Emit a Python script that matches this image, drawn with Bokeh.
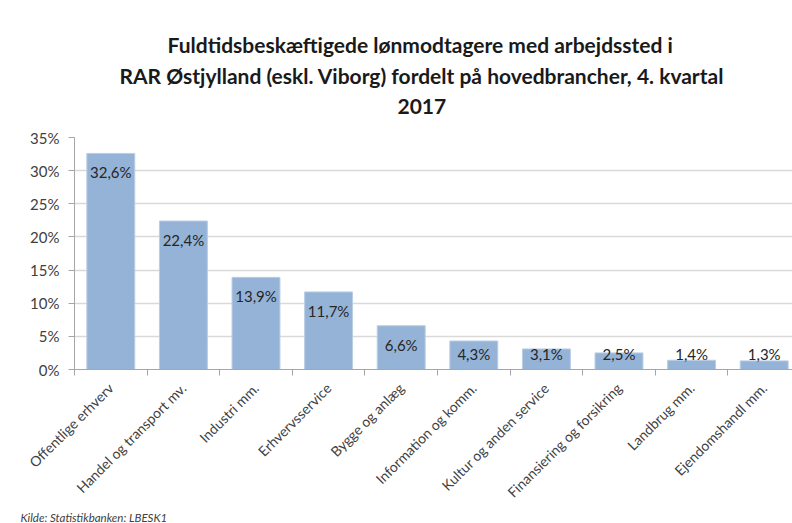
import math
from bokeh.plotting import figure
from bokeh.models import (ColumnDataSource, Range1d, FixedTicker, NumeralTickFormatter,
                          Title)
from bokeh.core.properties import value
from bokeh.embed import file_html
from bokeh.resources import INLINE

# ---- data ----
categories = ["Offentlige erhverv", "Handel og transport mv.", "Industri mm.",
              "Erhvervsservice", "Bygge og anlæg", "Information og komm.",
              "Kultur og anden service", "Finansiering og forsikring",
              "Landbrug mm.", "Ejendomshandl mm."]
shares_pct = [32.6, 22.4, 13.9, 11.7, 6.6, 4.3, 3.1, 2.5, 1.4, 1.3]
y_ticks_pct = [0, 5, 10, 15, 20, 25, 30, 35]
title_lines = ["Fuldtidsbeskæftigede lønmodtagere med arbejdssted i",
               "RAR Østjylland (eskl. Viborg) fordelt på hovedbrancher, 4. kvartal",
               "2017"]
source_text = "Kilde: Statistikbanken: LBESK1"

FONT = "Lato"
TXT = "#262626"
AX = "#404040"

xs = list(range(len(categories)))
vals = [v / 100 for v in shares_pct]
labels = [f"{v:.1f}".replace(".", ",") + "%" for v in shares_pct]
label_y = [max(v, 0.052) for v in vals]

src = ColumnDataSource(dict(x=xs, top=vals, lab=labels, ly=label_y))

W, H = 792, 523
p = figure(width=W, height=H, output_backend="svg", toolbar_location=None,
           x_range=Range1d(-0.5, -0.5 + 718 / 72.6), y_range=Range1d(0, 0.35),
           min_border_left=74, min_border_right=0, min_border_top=137,
           min_border_bottom=H - 370)
p.outline_line_color = None

p.vbar(x="x", top="top", width=0.66, bottom=0, source=src,
       fill_color="#95B3D7", line_color="#B9CDE5", line_width=1)

p.text(x="x", y="ly", text="lab", source=src, y_offset=19,
       text_align="center", text_baseline="middle",
       text_font=value(FONT), text_font_size="15px", text_color=TXT)

p.yaxis.ticker = FixedTicker(ticks=[t / 100 for t in y_ticks_pct])
p.yaxis.formatter = NumeralTickFormatter(format="0%")
p.yaxis.axis_line_color = "#a6a6a6"
p.yaxis.major_tick_line_color = "#a6a6a6"
p.yaxis.major_tick_out = 6
p.yaxis.major_tick_in = 0
p.yaxis.minor_tick_line_color = None
p.yaxis.major_label_text_font = FONT
p.yaxis.major_label_text_font_size = "15px"
p.yaxis.major_label_text_color = AX
p.yaxis.major_label_standoff = 9

p.ygrid.grid_line_color = "#d9d9d9"
p.ygrid.grid_line_width = 1.5
p.xgrid.grid_line_color = None

p.xaxis.ticker = FixedTicker(ticks=xs, minor_ticks=[i - 0.5 for i in range(len(categories) + 1)])
p.xaxis.major_label_overrides = {i: c for i, c in enumerate(categories)}
p.xaxis.major_label_orientation = math.pi / 4
p.xaxis.major_tick_line_color = None
p.xaxis.major_tick_out = 0
p.xaxis.major_tick_in = 0
p.xaxis.minor_tick_line_color = "#a6a6a6"
p.xaxis.minor_tick_out = 6
p.xaxis.minor_tick_in = 0
p.xaxis.axis_line_color = "#a6a6a6"
p.xaxis.major_label_text_font = FONT
p.xaxis.major_label_text_font_size = "14px"
p.xaxis.major_label_text_color = AX
p.xaxis.major_label_standoff = 10

# spacer between frame and title block
p.add_layout(Title(text=" ", text_font_size="1px", standoff=16), "above")

# title lines: left-aligned with offsets so they centre at x~420
FL = 74
title_offsets = [420 - 253 - FL, 420 - 301 - FL, 420 - 23 - FL]
title_standoffs = [0, 8, 10]
for t, off, so in reversed(list(zip(title_lines, title_offsets, title_standoffs))):
    p.add_layout(Title(text=t, align="left", offset=off, text_font=FONT,
                       text_font_style="bold", text_font_size="21px",
                       text_color="#1a1a1a", standoff=so), "above")

p.add_layout(Title(text=source_text, align="left", offset=20 - FL, text_font=FONT,
                   text_font_style="italic", text_font_size="11.5px",
                   text_color=AX, standoff=-1), "below")

open("out.html", "w").write(file_html(p, INLINE))
